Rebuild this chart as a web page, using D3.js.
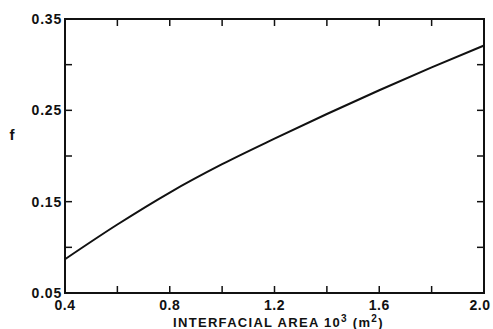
<!DOCTYPE html>
<html lang="en">
<head>
<meta charset="UTF-8">
<script src="https://d3js.org/d3.v7.min.js"></script>
<style>
  body { margin: 0; background: #fff; }
  text { font-family: "Liberation Sans", Arial, sans-serif; font-weight: bold; fill: #111; }
</style>
</head>
<body>
<div id="chart"></div>
<script>
// interfacial area (x 10^3 m^2) vs f
var areaVals = [0.4, 0.6, 0.8, 1.0, 1.2, 1.4, 1.6, 1.8, 2.0];
var fVals    = [0.087, 0.125, 0.160, 0.191, 0.219, 0.246, 0.272, 0.297, 0.321];

var xMajor = [0.4, 0.8, 1.2, 1.6, 2.0];
var xMinor = [0.6, 1.0, 1.4, 1.8];
var yMajor = [0.05, 0.15, 0.25, 0.35];
var yMinor = [0.10, 0.20, 0.30];

var W = 493, H = 329;
var margin = {top: 19, right: 9, bottom: 36, left: 65};
var width = W - margin.left - margin.right,
    height = H - margin.top - margin.bottom;

var svg = d3.select("#chart").append("svg")
    .attr("width", W).attr("height", H);
var g = svg.append("g")
    .attr("transform", "translate(" + margin.left + "," + margin.top + ")");

var x = d3.scaleLinear().domain([0.4, 2.0]).range([0, width]);
var y = d3.scaleLinear().domain([0.05, 0.35]).range([height, 0]);

// frame
g.append("rect")
    .attr("width", width).attr("height", height)
    .attr("fill", "none").attr("stroke", "#111").attr("stroke-width", 2);

var tk = 7;
// inward ticks, bottom + top
g.selectAll(".xt").data(xMajor.concat(xMinor)).enter().append("line")
    .attr("x1", d => x(d)).attr("x2", d => x(d))
    .attr("y1", height).attr("y2", height - tk)
    .attr("stroke", "#111").attr("stroke-width", 1.5);
g.selectAll(".xtt").data(xMajor.concat(xMinor)).enter().append("line")
    .attr("x1", d => x(d)).attr("x2", d => x(d))
    .attr("y1", 0).attr("y2", tk)
    .attr("stroke", "#111").attr("stroke-width", 1.5);
// inward ticks, left + right
g.selectAll(".yt").data(yMajor.concat(yMinor)).enter().append("line")
    .attr("x1", 0).attr("x2", tk)
    .attr("y1", d => y(d)).attr("y2", d => y(d))
    .attr("stroke", "#111").attr("stroke-width", 1.5);
g.selectAll(".ytr").data(yMajor.concat(yMinor)).enter().append("line")
    .attr("x1", width).attr("x2", width - tk)
    .attr("y1", d => y(d)).attr("y2", d => y(d))
    .attr("stroke", "#111").attr("stroke-width", 1.5);

// tick labels
g.selectAll(".xl").data(xMajor).enter().append("text")
    .attr("x", (d, i) => x(d) + (i == xMajor.length - 1 ? -4 : 0)).attr("y", height + 17)
    .attr("text-anchor", "middle")
    .style("font-size", "14px").style("letter-spacing", "0.5px")
    .text(d => d.toFixed(1));
g.selectAll(".yl").data(yMajor).enter().append("text")
    .attr("x", -3).attr("y", d => y(d) + 5)
    .attr("text-anchor", "end")
    .style("font-size", "14px").style("letter-spacing", "0.8px")
    .text(d => d.toFixed(2));

// axis titles
var xt = g.append("text")
    .attr("x", width / 2 + 4).attr("y", height + 34)
    .attr("text-anchor", "middle")
    .style("font-size", "13px").style("letter-spacing", "1.3px");
xt.append("tspan").text("INTERFACIAL AREA 10");
xt.append("tspan").attr("dy", -5).style("font-size", "10px").text("3");
xt.append("tspan").attr("dy", 5).text(" (m");
xt.append("tspan").attr("dy", -5).style("font-size", "10px").text("2");
xt.append("tspan").attr("dy", 5).text(")");

svg.append("text")
    .attr("x", 12).attr("y", 140)
    .attr("text-anchor", "middle")
    .style("font-size", "15px")
    .text("f");

// curve
var pts = areaVals.map((a, i) => [a, fVals[i]]);
g.append("path").datum(pts)
    .attr("fill", "none").attr("stroke", "#111").attr("stroke-width", 2)
    .attr("d", d3.line().x(d => x(d[0])).y(d => y(d[1])).curve(d3.curveMonotoneX));
</script>
</body>
</html>
